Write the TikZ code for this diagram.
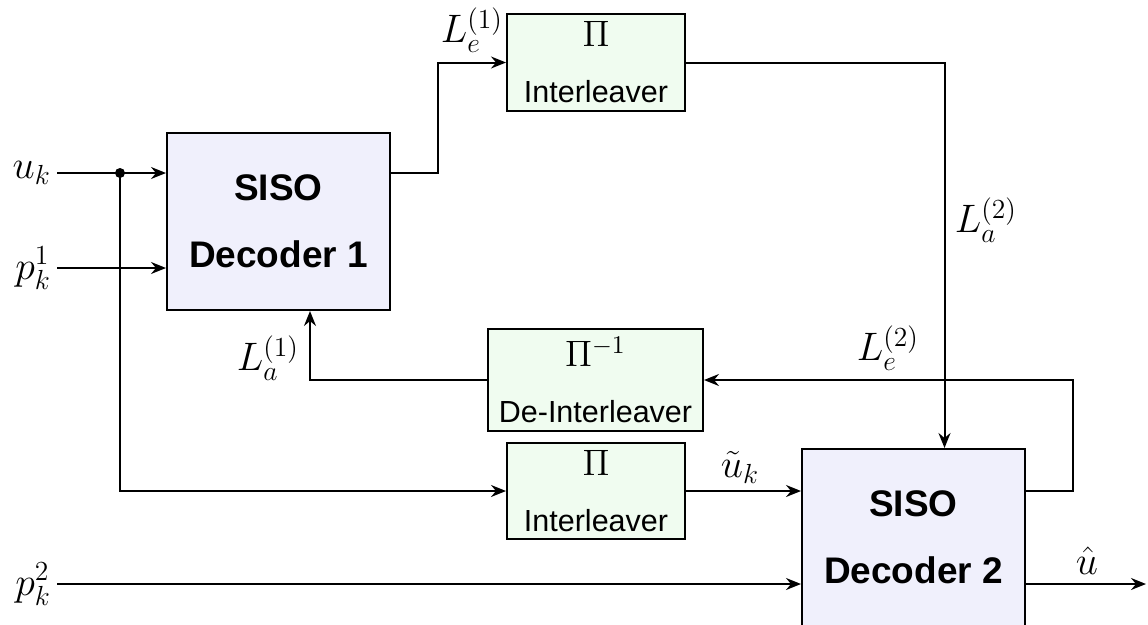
\documentclass[tikz,border=0pt]{standalone}
\usepackage{graphicx}
\usepackage{fontspec}
\setsansfont{Liberation Sans}
\usetikzlibrary{arrows.meta,calc}

\definecolor{decfill}{RGB}{240,240,252}
\definecolor{intfill}{RGB}{240,252,240}

% enlarged math: set at a standard size, then scaled up
\newcommand{\lblmath}[1]{\scalebox{2.3}{\fontsize{17.28}{17.28}\selectfont$#1$}}
\newcommand{\permsym}[1]{\scalebox{2.55}{\fontsize{14.4}{14.4}\selectfont$#1$}}

\begin{document}
\begin{tikzpicture}[x=1pt,y=-1pt,
  line width=2pt,
  arr/.style={-{Stealth[length=15pt,width=12pt,inset=5pt]}},
  decoder/.style={draw, fill=decfill, minimum width=223pt, minimum height=177pt,
    inner sep=0pt, align=center, font=\sffamily\bfseries\fontsize{37}{67}\selectfont},
  perm/.style={draw, fill=intfill, inner sep=0pt, align=center,
    font=\sffamily\fontsize{30.5}{56}\selectfont},
  lbl/.style={inner sep=2pt},
  inlbl/.style={lbl, anchor=east, inner xsep=5pt}]

\useasboundingbox (0,0) rectangle (1148,624);

% processing blocks
\node[decoder] (dec1) at (278.5,221.5) {SISO\\Decoder 1};
\node[decoder] (dec2) at (913.5,537.5) {SISO\\Decoder 2};
\node[perm, minimum width=178pt, minimum height=97pt] (int1) at (596,62.5)
  {\permsym{\Pi}\\Interleaver};
\node[perm, minimum width=215pt, minimum height=102pt] (deint) at (595.5,380)
  {\permsym{\Pi^{-1}}\\De-Interleaver};
\node[perm, minimum width=178pt, minimum height=96pt] (int2) at (596,491)
  {\permsym{\Pi}\\Interleaver};

% inputs
\node[inlbl] (uk) at (57,173) {\lblmath{u_k}};
\node[inlbl] (pk1) at (57,268) {\lblmath{p_k^1}};
\node[inlbl] (pk2) at (57,584) {\lblmath{p_k^2}};
\coordinate (split) at (120,173);
\coordinate (out) at (1146,584);

% signal labels
\node[lbl] (le1) at (472,30) {\lblmath{L_e^{(1)}}};
\node[lbl] (la1) at (268,358) {\lblmath{L_a^{(1)}}};
\node[lbl] (la2) at (986,220) {\lblmath{L_a^{(2)}}};
\node[lbl] (le2) at (888,348) {\lblmath{L_e^{(2)}}};
\node[lbl] (utk) at (740,467) {\lblmath{\tilde{u}_k}};
\node[lbl] (uhat) at (1087,561) {\lblmath{\hat{u}}};

% connectors
\draw[arr] (uk.east) -- (dec1.west |- uk.east);
\draw[arr] (pk1.east) -- (dec1.west |- pk1.east);
\fill (split) circle (5pt);
\draw[arr] (split) |- (int2.west);
\draw[arr] (pk2.east) -- (dec2.west |- pk2.east);

\draw[arr] (dec1.east |- uk.east) -- ++(47,0) |- (int1.west);
\draw[arr] (int1.east) -| ($(dec2.north)+(31,0)$);
\draw[arr] (int2.east) -- (dec2.west |- int2.east);
\draw[arr] ($(dec2.east)+(0,-46.5)$) -- ++(47,0) |- (deint.east);
\draw[arr] (deint.west) -| ($(dec1.south)+(31.5,0)$);
\draw[arr] (dec2.east |- out) -- (out);

\end{tikzpicture}
\end{document}
